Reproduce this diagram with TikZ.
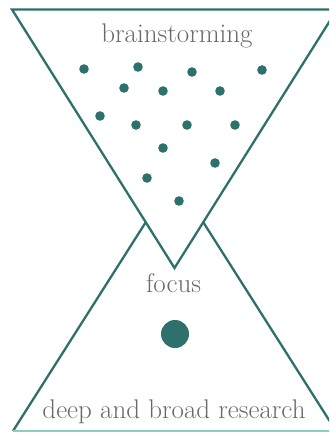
\documentclass[tikz,border=0pt]{standalone}
\begin{document}
\begin{tikzpicture}[x=1pt,y=-1pt,
  teal line/.style={draw=tealc,line width=2.3pt,line join=miter},
  dot/.style={fill=tealc},
  lbl/.style={text=txtc,font=\fontsize{27}{30}\selectfont,inner sep=0pt}]
\definecolor{tealc}{RGB}{46,112,108}
\definecolor{lightc}{RGB}{140,205,198}
\definecolor{txtc}{RGB}{105,105,105}
\useasboundingbox (0,0) rectangle (329,433);
\clip (0,0) rectangle (329,433);
% bottom triangle
\coordinate (bA) at (174.5,177);
\coordinate (bL) at (13,431);
\coordinate (bR) at (336,431);
\draw[teal line] (bL) -- (bA) -- (bR);
\draw[draw=lightc,line width=2pt] (bL) -- (bR);
% top triangle
\coordinate (tL) at (12,9.5);
\coordinate (tR) at (337,9.5);
\coordinate (tA) at (174.5,268);
\filldraw[teal line,fill=white] (tL) -- (tR) -- (tA) -- cycle;
% dots
\foreach \x/\y in {84/69,138/67,192/72,262/70,124/88,163/91,220/91,100/116,136/125,187/125,235/125,163/148,215/163,147/178,179/201}
  \fill[dot] (\x,\y) circle (4.8);
\fill[dot] (175,334) circle (14);
% labels
\node[lbl,anchor=base] (brain) at (177,43) {brainstorming};
\node[lbl,anchor=base] (focus) at (173.5,292) {focus};
\node[lbl,anchor=base] (deep) at (174,418) {deep and broad research};
\end{tikzpicture}
\end{document}
